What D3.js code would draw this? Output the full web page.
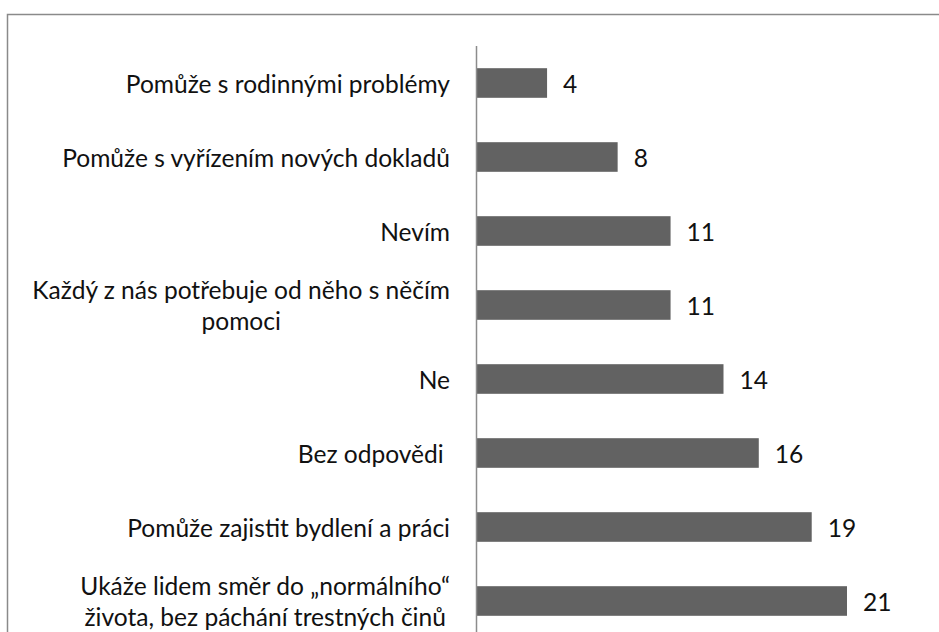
<!DOCTYPE html>
<html><head><meta charset="utf-8">
<script src="https://cdn.jsdelivr.net/npm/d3@7"></script>
<style>html,body{margin:0;padding:0;background:#fff;}svg{display:block;}text{white-space:pre;}</style>
</head><body>
<script>
const categories = [
  ["Pomůže s rodinnými problémy"],
  ["Pomůže s vyřízením nových dokladů"],
  ["Nevím"],
  ["Každý z nás potřebuje od něho s něčím", "pomoci"],
  ["Ne"],
  ["Bez odpovědi "],
  ["Pomůže zajistit bydlení a práci"],
  ["Ukáže lidem směr do „normálního“", "života, bez páchání trestných činů"]
];
const values = [4, 8, 11, 11, 14, 16, 19, 21];

const W = 939, H = 632;
const FONT = "Lato, 'Open Sans', sans-serif";
const svg = d3.select("body").append("svg").attr("width", W).attr("height", H);

// outer chart border (only top/left visible in crop)
svg.append("path").attr("d", "M7.5,632 V14.5 H939")
  .attr("fill", "none").attr("stroke", "#8a8a8a").attr("stroke-width", 1.5);

const axisX = 476.5;
const x = d3.scaleLinear().domain([0, 21]).range([axisX, 847]);
const y = d3.scaleBand().domain(d3.range(categories.length)).range([46, 638]).paddingInner(0.6).paddingOuter(0.3);

// determine font size to match label widths
const probe = svg.append("text").attr("font-family", FONT).attr("font-size", 20).text(categories[3][0]);
const w20 = probe.node().getComputedTextLength();
probe.remove();
const fs = Math.max(14, Math.min(28, 20 * 418 / w20));

svg.selectAll("rect.bar").data(values).enter().append("rect")
  .attr("class", "bar")
  .attr("x", x(0))
  .attr("y", (d, i) => y(i))
  .attr("width", d => x(d) - x(0))
  .attr("height", y.bandwidth())
  .attr("fill", "#626262");

// axis line
svg.append("line").attr("x1", axisX).attr("x2", axisX).attr("y1", 46).attr("y2", 638)
  .attr("stroke", "#8c8c8c").attr("stroke-width", 1.5);

// category labels
const labelRight = 450, lineGap = 31;
categories.forEach((lines, i) => {
  const cy = y(i) + y.bandwidth() / 2;
  const g = svg.append("g");
  const texts = lines.map((t, k) => g.append("text")
    .attr("font-family", FONT).attr("font-size", fs).attr("fill", "#111")
    .attr("dominant-baseline", "central")
    .attr("y", cy + (k - (lines.length - 1) / 2) * lineGap)
    .text(t));
  const widths = texts.map(t => t.node().getComputedTextLength());
  const maxW = d3.max(widths);
  const cx = labelRight - maxW / 2;
  texts.forEach(t => t.attr("x", cx).attr("text-anchor", "middle"));
});

// value labels
svg.selectAll("text.val").data(values).enter().append("text")
  .attr("class", "val")
  .attr("x", d => x(d) + 16)
  .attr("y", (d, i) => y(i) + y.bandwidth() / 2)
  .attr("dominant-baseline", "central")
  .attr("font-family", FONT).attr("font-size", fs).attr("fill", "#111")
  .text(d => d);
</script>
</body></html>
